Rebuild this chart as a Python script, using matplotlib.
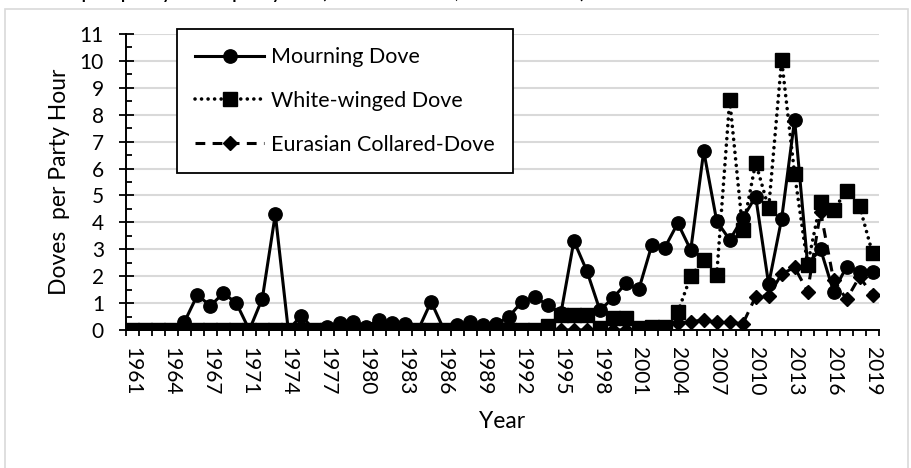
import matplotlib
matplotlib.use("Agg")
import matplotlib.pyplot as plt
from matplotlib.patches import Rectangle

plt.rcParams['font.family'] = ['Lato', 'DejaVu Sans']

# categories (one survey year is missing between 1967 and 1971)
years = list(range(1961, 1968)) + [1969, 1970] + list(range(1971, 2020))

mourning = [0, 0, 0, 0, 0.3, 1.3, 0.9, 1.37, 1.0, 0,
            1.17, 4.3, 0, 0.53, 0, 0.13, 0.26, 0.31, 0.13, 0.37,
            0.25, 0.22, 0, 1.05, 0, 0.17, 0.31, 0.19, 0.22, 0.5,
            1.05, 1.23, 0.92, 0.62, 3.31, 2.19, 0.74, 1.18, 1.73, 1.51,
            3.15, 3.06, 3.97, 2.97, 6.65, 4.05, 3.35, 4.15, 4.96, 1.7,
            4.13, 7.81, 2.45, 3.0, 1.43, 2.35, 2.17, 2.14]

white_winged = [0, 0, 0, 0, 0, 0, 0, 0, 0, 0,
                0, 0, 0, 0, 0, 0, 0, 0, 0, 0,
                0, 0, 0, 0, 0, 0, 0, 0, 0, 0,
                0, 0, 0.15, 0.55, 0.55, 0.55, 0.07, 0.45, 0.45, 0.08,
                0.12, 0.12, 0.66, 2.0, 2.6, 2.04, 8.55, 3.72, 6.22, 4.52,
                10.04, 5.79, 2.42, 4.77, 4.46, 5.17, 4.61, 2.85]

eurasian = [0, 0, 0, 0, 0, 0, 0, 0, 0, 0,
            0, 0, 0, 0, 0, 0, 0, 0, 0, 0,
            0, 0, 0, 0, 0, 0, 0, 0, 0, 0,
            0, 0, 0, 0, 0, 0, 0, 0, 0, 0,
            0, 0, 0.27, 0.3, 0.38, 0.3, 0.3, 0.22, 1.24, 1.27,
            2.08, 2.33, 1.43, 4.4, 1.86, 1.14, 1.98, 1.3]

W, H = 911, 468
fig = plt.figure(figsize=(W / 100, H / 100), dpi=100)
ax = fig.add_axes([126 / W, (H - 330) / H, 753 / W, 296 / H])

x = list(range(len(years)))
ax.plot(x, mourning, color='black', lw=2.2, marker='o', ms=9.6,
        label='Mourning Dove', zorder=3)
ax.plot(x, white_winged, color='black', lw=2.6, ls=(0, (0.01, 1.8)),
        dash_capstyle='round', marker='s', ms=9.6,
        label='White-winged Dove', zorder=4)
ax.plot(x, eurasian, color='black', lw=2.2, ls=(0, (3.2, 2.4)),
        marker='D', ms=6.8, label='Eurasian Collared-Dove', zorder=5)

ax.set_xlim(-0.5, len(years) - 0.5)
ax.set_ylim(0, 11)

# x: tick marks on category boundaries, labels every third year
ax.set_xticks([i - 0.5 for i in range(len(years) + 1)])
ax.set_xticklabels([])
ax.set_xticks(x[::3], minor=True)
ax.set_xticklabels([str(y) for y in years[::3]], minor=True, rotation=270)
ax.tick_params(axis='x', which='major', direction='out', length=4.5, width=1.3)
ax.tick_params(axis='x', which='minor', length=0, pad=12, labelsize=15)

ax.set_yticks(range(12))
ax.set_yticks([i + 0.5 for i in range(11)], minor=True)
ax.tick_params(axis='y', which='major', direction='inout', length=10.8,
               width=1.3, pad=10.5, labelsize=15)
ax.tick_params(axis='y', which='minor', direction='in', length=4.3, width=1.3)

for s in ['top', 'right']:
    ax.spines[s].set_visible(False)
for s in ['left', 'bottom']:
    ax.spines[s].set_linewidth(1.4)

ax.grid(axis='y', which='major', color='#d9d9d9', lw=1.5)
ax.set_axisbelow(True)

ax.set_xlabel('Year', fontsize=16.5)
ax.xaxis.set_label_coords(0.5, (330 - 411) / 296)
ax.set_ylabel('Doves  per Party Hour', fontsize=16.5)
ax.yaxis.set_label_coords((70 - 126) / 753, 0.5)

leg = ax.legend(loc='upper left', bbox_to_anchor=(177 / W, 1 - 29 / H),
                bbox_transform=fig.transFigure, frameon=True, fancybox=False,
                edgecolor='black', framealpha=1, fontsize=15.5,
                handlelength=3.2, labelspacing=1.1, borderpad=0.85,
                handletextpad=0.3, borderaxespad=0)
leg.get_frame().set_linewidth(1.3)

# caption above the chart, cut off at the top of the picture
fig.text(11 / W, 1 + 2 / H, 'Doves per party hour per year (Arizona CBC, 1961-2019)',
         fontsize=16.5, va='baseline', ha='left')

# light grey chart-area border
fig.add_artist(Rectangle((5 / W, -0.1), 903 / W, (H - 9) / H + 0.1,
                         transform=fig.transFigure, fill=False,
                         edgecolor='#d9d9d9', lw=1.2))

fig.savefig('out.png', dpi=100)
